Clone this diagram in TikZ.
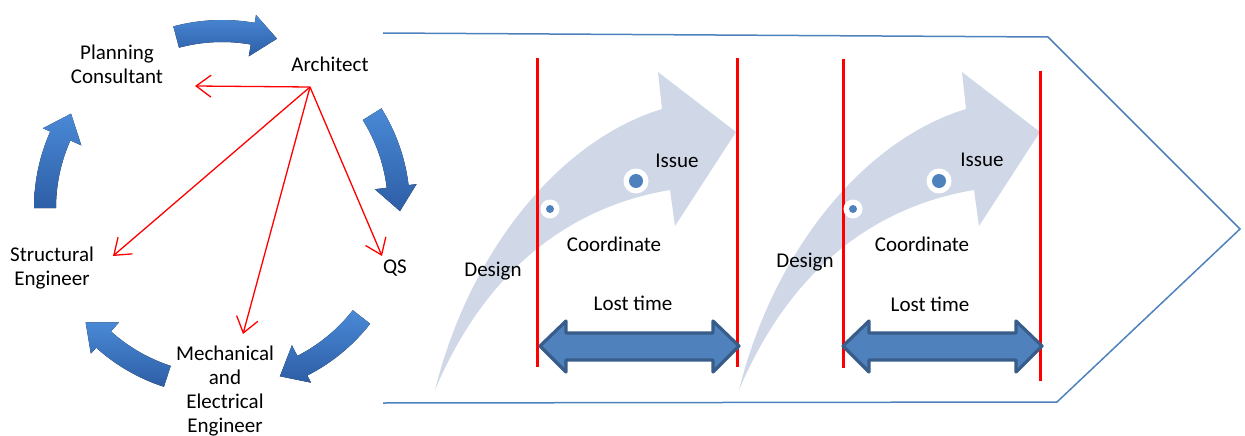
\documentclass[tikz,border=0pt]{standalone}
\usepackage{fontspec}
\setmainfont{Carlito}
\usetikzlibrary{arrows.meta}
\definecolor{cblue}{HTML}{4F81BD}
\definecolor{cdark}{HTML}{385D8A}
\definecolor{clight}{HTML}{D0D8E8}
\definecolor{cycT}{HTML}{4A89D6}
\definecolor{cycB}{HTML}{2D5EA6}
\definecolor{cred}{HTML}{FF0000}
\newcommand\cyclearrow[2]{%
  \pgfmathsetmacro\cb{#2+8}%
  \fill[cycfill] plot[domain=#1:\cb,samples=16] ({-(\x)}:188) -- ({-(\cb)}:196)
    -- ({-(#2)}:178) -- ({-(\cb)}:154)
    -- plot[domain=\cb:#1,samples=16] ({-(\x)}:166) -- cycle;}
\newcommand\flowarrow[1]{%
  \begin{scope}[shift={(#1,0)}]
    \fill[flowfill] (435,390) .. controls (470,250) and (560,140) .. (662,109)
      -- (658,72) -- (736,132) -- (675,226) -- (670,190)
      .. controls (580,205) and (490,260) .. (435,390) -- cycle;
  \end{scope}}
\newcommand\lostarrow[1]{%
  \begin{scope}[shift={(#1,0)}]
    \filldraw[lostfill] (540,346) -- (566,321) -- (566,333) -- (713,333) -- (713,321)
      -- (739,346) -- (713,372) -- (713,360) -- (566,360) -- (566,372) -- cycle;
  \end{scope}}
\begin{document}
\begin{tikzpicture}[x=1pt,y=-1pt,
  lbl/.style={font=\fontsize{21}{24}\selectfont, inner sep=0pt, anchor=base},
  cycfill/.style={top color=cycT, bottom color=cycB},
  flowfill/.style={fill=clight},
  lostfill/.style={fill=cblue, draw=cdark, line width=3.2, line join=round},
  redline/.style={draw=cred, line width=3},
  redarrow/.style={draw=cred, line width=1.3, -{Straight Barb[length=15pt,width=22pt]}},
  chevron/.style={draw=cblue, line width=1.5, line join=miter}]
\useasboundingbox (0,0) rectangle (1245,436);

% cycle of block arrows
\begin{scope}[shift={(222,208)}]
  \cyclearrow{105}{72}
  \cyclearrow{32}{-1}
  \cyclearrow{-38}{-71}
  \cyclearrow{-108}{-140}
  \cyclearrow{180}{148}
\end{scope}

% left labels
\node[lbl, align=center] (pc) at (117,83) {Planning\\Consultant};
\node[lbl] (arch) at (330,71) {Architect};
\node[lbl, align=center] (se) at (52,285) {Structural\\Engineer};
\node[lbl] (qs) at (395,273) {QS};
\node[lbl, align=center] (me) at (225,432) {Mechanical\\and\\Electrical\\Engineer};

% red arrows from architect
\coordinate (src) at (310,87);
\coordinate (toPC) at (195,86);
\coordinate (toSE) at (113,256);
\coordinate (toME) at (243,334);
\coordinate (toQS) at (382,256);
\draw[redarrow] (src) -- (toPC);
\draw[redarrow] (src) -- (toSE);
\draw[redarrow] (src) -- (toME);
\draw[redarrow] (src) -- (toQS);

% chevron outline
\coordinate (cv1) at (383,33);
\coordinate (cv2) at (1048,37);
\coordinate (cv3) at (1240,229);
\coordinate (cv4) at (1057,402);
\coordinate (cv5) at (383,403);
\draw[chevron] (cv1) -- (cv2) -- (cv3) -- (cv4) -- (cv5);

% light flow arrows
\flowarrow{0}
\flowarrow{304}

% red vertical lines
\coordinate (r1a) at (537,58);  \coordinate (r1b) at (537,367);
\coordinate (r2a) at (737,58);  \coordinate (r2b) at (737,367);
\coordinate (r3a) at (843,59);  \coordinate (r3b) at (843,368);
\coordinate (r4a) at (1040,71); \coordinate (r4b) at (1040,381);
\draw[redline] (r1a) -- (r1b);
\draw[redline] (r2a) -- (r2b);
\draw[redline] (r3a) -- (r3b);
\draw[redline] (r4a) -- (r4b);

% dots
\foreach \dx in {0,303}{
  \fill[white] (550+\dx,209) circle[radius=9.5];
  \fill[cblue] (550+\dx,209) circle[radius=4];
  \fill[white] (636+\dx,181) circle[radius=12.5];
  \fill[cblue] (636+\dx,181) circle[radius=7];
}

% right labels
\node[lbl] (iss1) at (677,167) {Issue};
\node[lbl] (coo1) at (614,251) {Coordinate};
\node[lbl] (des1) at (493,276) {Design};
\node[lbl] (lt1) at (633,310) {Lost time};
\node[lbl] (iss2) at (982,166) {Issue};
\node[lbl] (coo2) at (922,251) {Coordinate};
\node[lbl] (des2) at (805,267) {Design};
\node[lbl] (lt2) at (930,311) {Lost time};

% lost time double arrows
\lostarrow{0}
\lostarrow{303}
\end{tikzpicture}
\end{document}
